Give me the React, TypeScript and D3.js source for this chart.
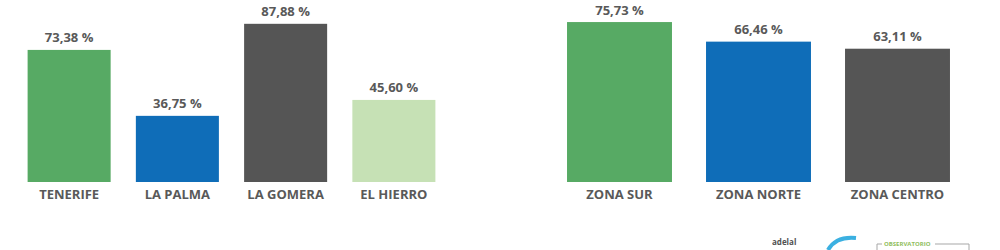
import React from "react";
import * as d3 from "d3";

const islands = ["TENERIFE", "LA PALMA", "LA GOMERA", "EL HIERRO"];
const islandValues = [73.38, 36.75, 87.88, 45.6];
const islandColors = ["#57aa64", "#0f6db8", "#555555", "#c6e1b5"];

const zones = ["ZONA SUR", "ZONA NORTE", "ZONA CENTRO"];
const zoneValues = [75.73, 66.46, 63.11];
const zoneColors = ["#57aa64", "#0f6db8", "#555555"];

const fmt = (v: number) => v.toFixed(2).replace(".", ",") + " %";
const FONT = "'Open Sans', 'Noto Sans', sans-serif";
const TEXT = "#595959";

function BarGroup({ cats, vals, colors, x0, x1, pxPerUnit, pad }: any) {
  const base = 182;
  const x = d3.scaleBand<string>().domain(cats).range([x0, x1]).paddingInner(pad).paddingOuter(pad / 2);
  const y = d3.scaleLinear().domain([0, 100]).range([base, base - 100 * pxPerUnit]);
  return (
    <g>
      {cats.map((c: string, i: number) => {
        const bx = x(c)!;
        const bw = x.bandwidth();
        const top = y(vals[i]);
        return (
          <g key={c}>
            <rect x={bx} y={top} width={bw} height={base - top} fill={colors[i]} />
            <text x={bx + bw / 2} y={top - 7.5} textAnchor="middle" fontFamily={FONT} fontWeight={700} fontSize={13} fill={TEXT}>
              {fmt(vals[i])}
            </text>
            <text x={bx + bw / 2} y={199} textAnchor="middle" fontFamily={FONT} fontWeight={700} fontSize={13} fill={TEXT}>
              {c}
            </text>
          </g>
        );
      })}
    </g>
  );
}

export default function App() {
  return (
    <svg width={1000} height={250} style={{ position: "absolute", left: 0, top: 0, background: "#fff" }}>
      <rect width={1000} height={250} fill="#fff" />
      <BarGroup cats={islands} vals={islandValues} colors={islandColors} x0={15} x1={448} pxPerUnit={1.8} pad={0.233} />
      <BarGroup cats={zones} vals={zoneValues} colors={zoneColors} x0={550} x1={967} pxPerUnit={2.112} pad={0.245} />
      {/* partial logo at bottom */}
      <g opacity={0.85}>
        <text x={772} y={245} fontFamily={FONT} fontWeight={700} fontSize={8} fill="#333">adelal</text>
        <path d="M828,250 Q836,236 856,238" stroke="#1aa3dc" strokeWidth={4} fill="none" />
        <path d="M877,250 L877,244 L882,244 M935,244 L969,244 L969,250" stroke="#999" strokeWidth={1} fill="none" />
        <text x={884} y={246} fontFamily={FONT} fontWeight={700} fontSize={6} fill="#7cb342">OBSERVATORIO</text>
      </g>
    </svg>
  );
}
